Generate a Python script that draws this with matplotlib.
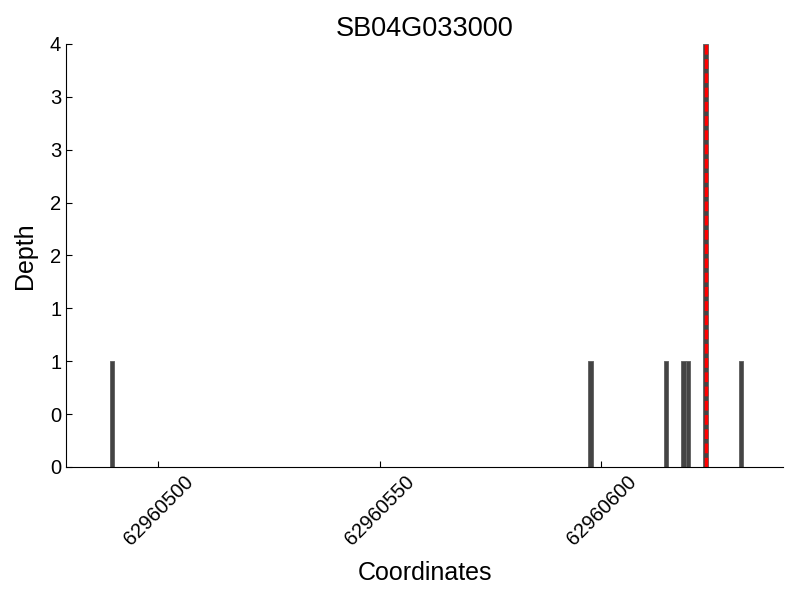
import matplotlib
matplotlib.use("Agg")
import matplotlib.pyplot as plt
from matplotlib.ticker import FormatStrFormatter

plt.rcParams['font.family'] = ['Liberation Sans', 'DejaVu Sans']

base = 62960000
positions = [489, 597, 614, 618, 619, 623, 631]
depths = [1, 1, 1, 1, 1, 4, 1]
marker_pos = 623.5
title = "SB04G033000"
xticks = [62960500, 62960550, 62960600]
yticks = [0, 0.5, 1, 1.5, 2, 2.5, 3, 3.5, 4]

fig = plt.figure(figsize=(8, 6), dpi=100)
ax = fig.add_axes([0.0825, 0.2217, 0.979 - 0.0825, 0.9267 - 0.2217])

ax.bar([base + p for p in positions], depths, width=1, align='edge',
       color='#444444', edgecolor='#666666', linewidth=0.7)
ax.axvline(base + marker_pos, color='#ff0000', linestyle='--', linewidth=2.5, dashes=(2.8, 1.3))

ax.set_xlim(base + 479.17, base + 641.0)
ax.set_ylim(0, 4)
ax.set_xticks(xticks)
ax.set_xticklabels([str(t) for t in xticks], rotation=45, fontsize=14.5)
ax.set_yticks(yticks)
ax.yaxis.set_major_formatter(FormatStrFormatter('%d'))
ax.tick_params(axis='y', labelsize=14.5)
ax.tick_params(direction='in', length=4)
ax.spines['top'].set_visible(False)
ax.spines['right'].set_visible(False)

ax.set_title(title, fontsize=19.5)
ax.set_xlabel("Coordinates", fontsize=18, labelpad=9)
ax.set_ylabel("Depth", fontsize=18, labelpad=9)

fig.savefig("out.png", dpi=100)
